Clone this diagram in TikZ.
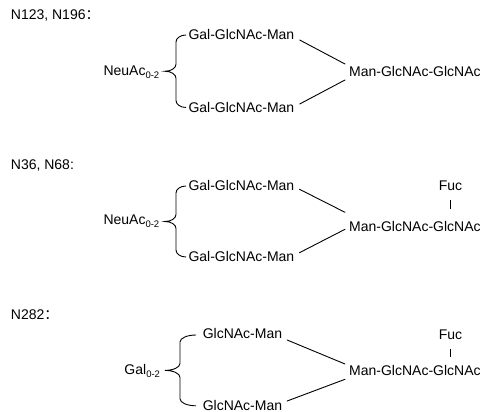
\documentclass[tikz,border=0pt]{standalone}
\usepackage{fontspec}
\setmainfont{Liberation Sans}
\newfontfamily\cjk{Noto Sans CJK SC}
\usetikzlibrary{calc}
\newcommand{\subr}[1]{\raisebox{-3pt}{\fontsize{9.5}{10}\selectfont #1}}
\newcommand{\glybrace}[5]{% #1 end x, #2 spine x, #3 tip x, #4 top y, #5 bottom y
  \pgfmathsetmacro\gbm{(#4+#5)/2}%
  \draw[bracestyle] (#1,#4) .. controls ({#1-0.552*(#1-#2)},#4) and (#2,{#4+3.1}) .. (#2,{#4+7})
    -- (#2,{\gbm-7}) .. controls (#2,{\gbm-3.1}) and ({#3+0.552*(#2-#3)},\gbm) .. (#3,\gbm)
    .. controls ({#3+0.552*(#2-#3)},\gbm) and (#2,{\gbm+3.1}) .. (#2,{\gbm+7})
    -- (#2,{#5-7}) .. controls (#2,{#5-3.1}) and ({#1-0.552*(#1-#2)},#5) .. (#1,#5);
}
\begin{document}
\begin{tikzpicture}[x=1pt,y=-1pt,
  lbl/.style={inner sep=0pt, anchor=base west, font=\fontsize{14}{16.8}\selectfont},
  fuc/.style={inner sep=0pt, anchor=base, font=\fontsize{14}{16.8}\selectfont},
  link/.style={line width=0.9pt, line cap=round},
  bracestyle/.style={line width=0.9pt}]
\useasboundingbox (0,0) rectangle (483,412);

% ---------- block 1 ----------
\node[lbl] (t1) at (10.7,20) {N123, N196{\cjk ：}};
\node[lbl] (s1) at (103.3,76) {NeuAc\subr{0-2}};
\node[lbl] (b1t) at (188.3,39.5) {Gal-GlcNAc-Man};
\node[lbl] (b1b) at (188.3,112.5) {Gal-GlcNAc-Man};
\node[lbl] (c1) at (349,76.7) {Man-GlcNAc-GlcNAc};
\glybrace{186}{176}{165}{35}{107.5}
\draw[link] ($(b1t.base east)+(5.2,0.5)$) -- ($(c1.base west)+(-4,-12.7)$);
\draw[link] ($(b1b.base east)+(5.2,-8.5)$) -- ($(c1.base west)+(-4,3.3)$);

% ---------- block 2 ----------
\node[lbl] (t2) at (10.7,170) {N36, N68:};
\node[lbl] (s2) at (103.3,225) {NeuAc\subr{0-2}};
\node[lbl] (b2t) at (188.3,190) {Gal-GlcNAc-Man};
\node[lbl] (b2b) at (188.3,261.7) {Gal-GlcNAc-Man};
\node[lbl] (c2) at (349,231.7) {Man-GlcNAc-GlcNAc};
\node[fuc] (f2) at (450.5,190) {Fuc};
\glybrace{186}{176}{165}{186}{257}
\draw[link] ($(b2t.base east)+(5,-0.7)$) -- ($(c2.base west)+(-4,-19.4)$);
\draw[link] ($(b2b.base east)+(5,-9)$) -- ($(c2.base west)+(-4,-2.4)$);
\draw[bracestyle] ($(f2.south)+(0,10)$) -- ($(f2.south |- c2.north)+(0,-12.8)$);

% ---------- block 3 ----------
\node[lbl] (t3) at (10.7,319.3) {N282{\cjk ：}};
\node[lbl] (s3) at (124.3,374) {Gal\subr{0-2}};
\node[lbl] (b3t) at (202.6,338.8) {GlcNAc-Man};
\node[lbl] (b3b) at (202.6,410.3) {GlcNAc-Man};
\node[lbl] (c3) at (349,375) {Man-GlcNAc-GlcNAc};
\node[fuc] (f3) at (450.5,339) {Fuc};
\glybrace{196}{180}{165}{335}{405.8}
\draw[link] ($(b3t.base east)+(4.8,1.2)$) -- ($(c3.base west)+(-4,-11)$);
\draw[link] ($(b3b.base east)+(4.8,-9.3)$) -- ($(c3.base west)+(-4,4.3)$);
\draw[bracestyle] ($(f3.south)+(0,9.3)$) -- ($(f3.south |- c3.north)+(0,-8.1)$);
\end{tikzpicture}
\end{document}
